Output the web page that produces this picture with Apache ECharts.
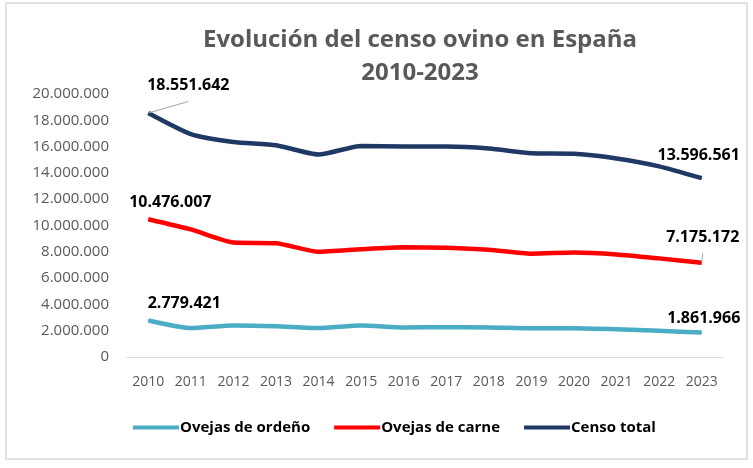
<!DOCTYPE html>
<html>
<head>
<meta charset="utf-8">
<script src="https://cdn.jsdelivr.net/npm/echarts@6/dist/echarts.min.js"></script>
<style>
html,body{margin:0;padding:0;background:#fff;}
#chart{width:753px;height:468px;}
</style>
</head>
<body>
<div id="chart"></div>
<script>
var years = ['2010','2011','2012','2013','2014','2015','2016','2017','2018','2019','2020','2021','2022','2023'];
var ordeno = [2779421,2200000,2400000,2340000,2200000,2400000,2250000,2260000,2250000,2190000,2190000,2110000,1990000,1861966];
var carne = [10476007,9700000,8700000,8650000,8000000,8200000,8350000,8300000,8150000,7850000,7950000,7800000,7500000,7175172];
var total = [18551642,16950000,16350000,16100000,15400000,16050000,16000000,16000000,15850000,15500000,15450000,15100000,14500000,13596561];
var yTicks = [0,2000000,4000000,6000000,8000000,10000000,12000000,14000000,16000000,18000000,20000000];

var chart = echarts.init(document.getElementById('chart'));

function fmt(v){
    return String(v).replace(/\B(?=(\d{3})+(?!\d))/g, '.');
}
// primer y ultimo punto llevan etiqueta
function withLabels(arr, firstOff, lastOff, leader){
    return arr.map(function(v, i){
        if(i === 0 || i === arr.length - 1){
            var off = i === 0 ? firstOff : lastOff;
            var item = {
                value: v,
                symbol: 'circle',
                symbolSize: 1,
                label: {show: true, position: 'top', offset: off, formatter: fmt(v)}
            };
            if(leader && leader[i === 0 ? 0 : 1]){
                item.labelLine = {show: true, lineStyle: {color: '#a6a6a6', width: 1}};
            }
            return item;
        }
        return v;
    });
}

var labelStyle = {color: '#000', fontWeight: 'bold', fontSize: 16, fontFamily: 'Open Sans'};

chart.setOption({
    animation: false,
    backgroundColor: '#fff',
    textStyle: {fontFamily: 'Open Sans'},
    graphic: [{
        type: 'rect',
        shape: {x: 6, y: 3, width: 741, height: 456},
        style: {fill: 'none', stroke: '#d9d9d9', lineWidth: 1.5}
    }],
    title: {
        text: 'Evolución del censo ovino en España\n2010-2023',
        left: 415,
        textAlign: 'center',
        top: 19,
        textStyle: {color: '#595959', fontSize: 24, fontWeight: 'bold', lineHeight: 33, fontFamily: 'Open Sans'}
    },
    legend: {
        bottom: 28,
        left: 128,
        itemGap: 24,
        itemWidth: 46,
        itemHeight: 4,
        icon: 'rect',
        textStyle: {color: '#000', fontSize: 15, fontWeight: 'bold', fontFamily: 'Open Sans', padding: [0, 0, 0, -4]},
        data: ['Ovejas de ordeño','Ovejas de carne','Censo total']
    },
    grid: {left: 127, right: 30, top: 94, bottom: 111},
    xAxis: {
        type: 'category',
        data: years,
        axisTick: {show: false},
        axisLine: {lineStyle: {color: '#d9d9d9', width: 1}},
        axisLabel: {color: '#595959', fontSize: 14, margin: 18, fontFamily: 'Liberation Sans Narrow, Open Sans'}
    },
    yAxis: {
        type: 'value',
        min: yTicks[0],
        max: yTicks[yTicks.length - 1],
        interval: 2000000,
        splitLine: {show: false},
        axisLine: {show: false},
        axisTick: {show: false},
        axisLabel: {color: '#595959', fontSize: 15, margin: 18, formatter: function(v){ return fmt(v); }}
    },
    series: [{
        name: 'Ovejas de ordeño',
        type: 'line',
        smooth: 0.2,
        symbol: 'none',
        color: '#4bacc6',
        lineStyle: {width: 4.5},
        label: labelStyle,
        data: withLabels(ordeno, [36, -4], [2, -1])
    },{
        name: 'Ovejas de carne',
        type: 'line',
        smooth: 0.2,
        symbol: 'none',
        color: '#ff0000',
        lineStyle: {width: 4.5},
        label: labelStyle,
        data: withLabels(carne, [22, -3], [1, -12], [false, true])
    },{
        name: 'Censo total',
        type: 'line',
        smooth: 0.2,
        symbol: 'none',
        color: '#203864',
        lineStyle: {width: 4.5},
        label: labelStyle,
        data: withLabels(total, [40, -14], [-3, -9], [true, false])
    }]
});
</script>
</body>
</html>
